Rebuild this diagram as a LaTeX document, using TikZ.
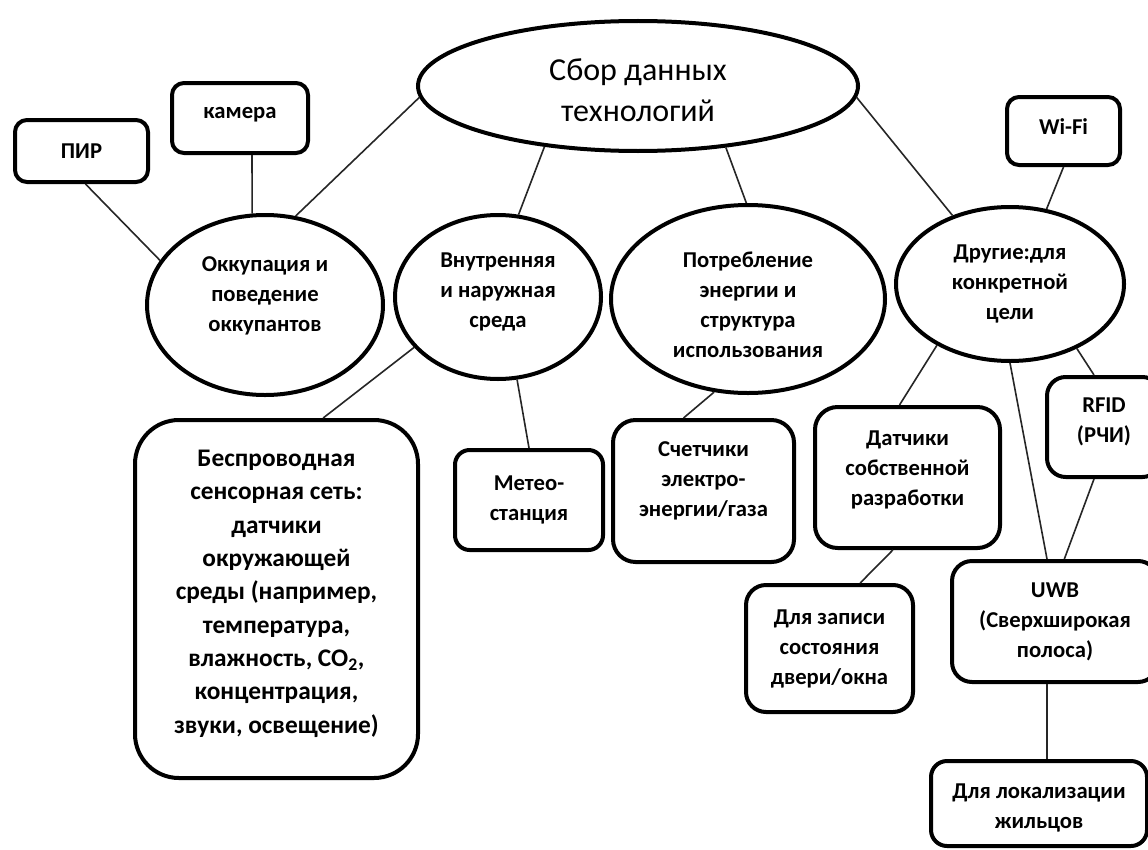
\documentclass[tikz,border=0pt]{standalone}
\usepackage{fontspec}
\setmainfont{Carlito}
\usetikzlibrary{shapes.geometric,calc}
\newcommand\lowpad[1]{\rule[-#1]{0pt}{#1}}
\newcommand\toppad[1]{\rule{0pt}{#1}}
\tikzset{
  conn/.style={line width=1.2pt, black!85},
  bub/.style={ellipse, draw, line width=3pt, inner sep=0pt, align=center,
    font=\bfseries\fontsize{17}{22.5}\selectfont},
  card/.style={rectangle, draw, line width=3pt, rounded corners=#1, inner sep=0pt, align=center,
    font=\bfseries\fontsize{17}{22.5}\selectfont},
  card/.default=10pt,
  titlebub/.style={ellipse, draw, line width=3pt, inner sep=0pt, align=center,
    font=\fontsize{24}{30.75}\selectfont}
}
\begin{document}
\begin{tikzpicture}[x=0.75pt,y=-0.75pt]
\useasboundingbox (0,0) rectangle (1148,849);
\fill[white] (0,0) rectangle (1148,849);
\clip (0,0) rectangle (1148,849);

% ellipses
\node[titlebub, minimum width=330pt, minimum height=97.5pt] (root) at (638,86) {\toppad{23pt}Сбор данных\\технологий};
\node[bub, minimum width=177pt, minimum height=135pt] (occ) at (265,305) {Оккупация и\\поведение\\оккупантов\lowpad{16pt}};
\node[bub, minimum width=154.5pt, minimum height=123pt] (env) at (498,297) {Внутренняя\\и наружная\\среда\lowpad{10pt}};
\node[bub, minimum width=205.5pt, minimum height=141pt] (cons) at (748,299) {\toppad{21pt}Потребление\\энергии и\\структура\\использования};
\node[bub, minimum width=171pt, minimum height=115.5pt] (other) at (1010,284) {Другие:для\\конкретной\\цели};

% boxes
\node[card=9pt, minimum width=99.75pt, minimum height=46.5pt] (pir) at (81.5,151) {ПИР};
\node[card=9pt, minimum width=102pt, minimum height=52.5pt] (cam) at (240,118) {камера\lowpad{8pt}};
\node[card=9pt, minimum width=84.75pt, minimum height=51pt] (wifi) at (1063.5,131) {Wi-Fi\lowpad{6pt}};
\node[card=33pt, minimum width=212.25pt, minimum height=268.5pt,
  font=\bfseries\fontsize{19}{25}\selectfont] (wsn) at (276.5,599)
  {Беспроводная\\сенсорная сеть:\\датчики\\окружающей\\среды (например,\\температура,\\влажность, CO\textsubscript{2},\\концентрация,\\звуки, освещение)\lowpad{11pt}};
\node[card=11pt, minimum width=111pt, minimum height=75pt] (meteo) at (529,500) {Метео-\\станция};
\node[card=17pt, minimum width=135.75pt, minimum height=106.5pt] (meter) at (703.5,491) {Счетчики\\электро-\\энергии/газа\lowpad{17.5pt}};
\node[card=17pt, minimum width=138.75pt, minimum height=105.75pt] (own) at (907.5,477.5) {Датчики\\собственной\\разработки\lowpad{14pt}};
\node[card=14pt, minimum width=85.5pt, minimum height=75pt] (rfid) at (1104,427) {RFID\\(РЧИ)\lowpad{10pt}};
\node[card=15pt, minimum width=125.25pt, minimum height=95.25pt] (door) at (829.5,648.5) {Для записи\\состояния\\двери/окна};
\node[card=15pt, minimum width=154.5pt, minimum height=90.75pt] (uwb) at (1055,621.5) {UWB\\(Сверхширокая\\полоса)};
\node[card=12pt, minimum width=162pt, minimum height=63.75pt] (loc) at (1039,803.5) {\toppad{18pt}Для локализации\\жильцов};

% connectors
\draw[conn] ([xshift=3pt]pir.south) -- (occ.157);
\draw[conn] ([xshift=9pt]cam.south) -- (occ.98);
\draw[conn] (root.183) -- (occ.71);
\draw[conn] (root.213) -- (env.76);
\draw[conn] (root.325) -- (cons.91);
\draw[conn] (root.357) -- (other.130);
\draw[conn] (wifi.south) -- (other.64);
\draw[conn] (env.211) -- ([xshift=35pt]wsn.north);
\draw[conn] (env.283) -- (meteo.north);
\draw[conn] (cons.250) -- ([xshift=-15pt]meter.north);
\draw[conn] (other.220) -- ([xshift=-6pt]own.north);
\draw[conn] (other.270) -- ([xshift=-6pt]uwb.north);
\draw[conn] (other.316) -- ([xshift=-7.5pt]rfid.north);
\draw[conn] ([xshift=-7.5pt]rfid.south) -- ([xshift=7pt]uwb.north);
\draw[conn] ([xshift=-11pt]own.south) -- ([xshift=23pt]door.north);
\draw[conn] ([xshift=-6pt]uwb.south) -- ([xshift=6pt]loc.north);
\end{tikzpicture}
\end{document}
